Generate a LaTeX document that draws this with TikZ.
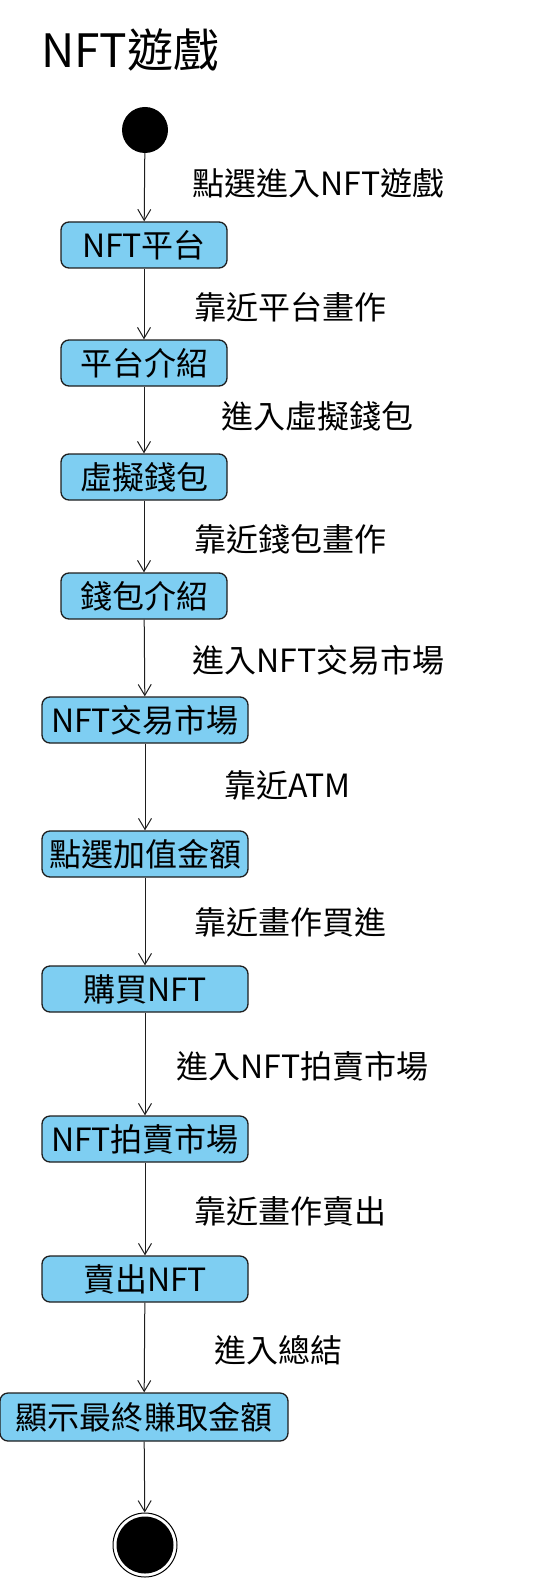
\documentclass[tikz,border=0pt]{standalone}
\usepackage{fontspec}
\newfontfamily\cjk{Noto Sans CJK TC}
\usetikzlibrary{arrows.meta}

\definecolor{actblue}{HTML}{7ECEF2}
\definecolor{edgegray}{HTML}{1E1E1E}

\begin{document}
\begin{tikzpicture}[x=1pt, y=-1pt,
    act/.style={draw=edgegray, line width=1.3pt, fill=actblue, rounded corners=8pt,
        minimum height=46pt, inner sep=0pt, font=\cjk\fontsize{32}{32}\selectfont},
    trans/.style={anchor=west, inner sep=0pt, font=\cjk\fontsize{32}{32}\selectfont},
    flow/.style={draw=edgegray, line width=1pt,
        -{Straight Barb[length=11pt, width=13pt, line width=1pt]}}]

    \useasboundingbox (0, 0) rectangle (552, 1578);

    \node[anchor=west, inner sep=0pt, font=\cjk\fontsize{46}{46}\selectfont] (title) at (41, 50) {NFT遊戲};

    \node[circle, fill=black, minimum size=46pt, inner sep=0pt] (start) at (145, 130) {};

    \node[act, minimum width=166pt] (nft) at (144, 245) {NFT平台};
    \node[act, minimum width=166pt] (intro) at (144, 363) {平台介紹};
    \node[act, minimum width=166pt] (wallet) at (144, 477) {虛擬錢包};
    \node[act, minimum width=166pt] (wintro) at (144, 596) {錢包介紹};
    \node[act, minimum width=206pt] (market) at (145, 720) {NFT交易市場};
    \node[act, minimum width=206pt] (topup) at (145, 854) {點選加值金額};
    \node[act, minimum width=206pt] (buy) at (145, 989) {購買NFT};
    \node[act, minimum width=206pt] (auction) at (145, 1139) {NFT拍賣市場};
    \node[act, minimum width=206pt] (sell) at (145, 1279) {賣出NFT};
    \node[act, minimum width=288pt, minimum height=48pt] (result) at (144, 1417) {顯示最終賺取金額};

    \node[circle, draw=black, line width=1pt, minimum size=64pt, inner sep=0pt] (end) at (145, 1545) {};
    \fill[black] (end.center) circle (28.5pt);

    \draw[flow] (start) -- (nft);
    \draw[flow] (nft) -- (intro);
    \draw[flow] (intro) -- (wallet);
    \draw[flow] (wallet) -- (wintro);
    \draw[flow] (wintro) -- (market);
    \draw[flow] (market) -- (topup);
    \draw[flow] (topup) -- (buy);
    \draw[flow] (buy) -- (auction);
    \draw[flow] (auction) -- (sell);
    \draw[flow] (sell) -- (result);
    \draw[flow] (result) -- (end);

    \node[trans] (l1) at (192, 183) {點選進入NFT遊戲};
    \node[trans] (l2) at (194, 307) {靠近平台畫作};
    \node[trans] (l3) at (221, 416) {進入虛擬錢包};
    \node[trans] (l4) at (194, 539) {靠近錢包畫作};
    \node[trans] (l5) at (192, 660) {進入NFT交易市場};
    \node[trans] (l6) at (224, 785) {靠近ATM};
    \node[trans] (l7) at (194, 922) {靠近畫作買進};
    \node[trans] (l8) at (176, 1066) {進入NFT拍賣市場};
    \node[trans] (l9) at (194, 1211) {靠近畫作賣出};
    \node[trans] (l10) at (214, 1350) {進入總結};

\end{tikzpicture}
\end{document}
